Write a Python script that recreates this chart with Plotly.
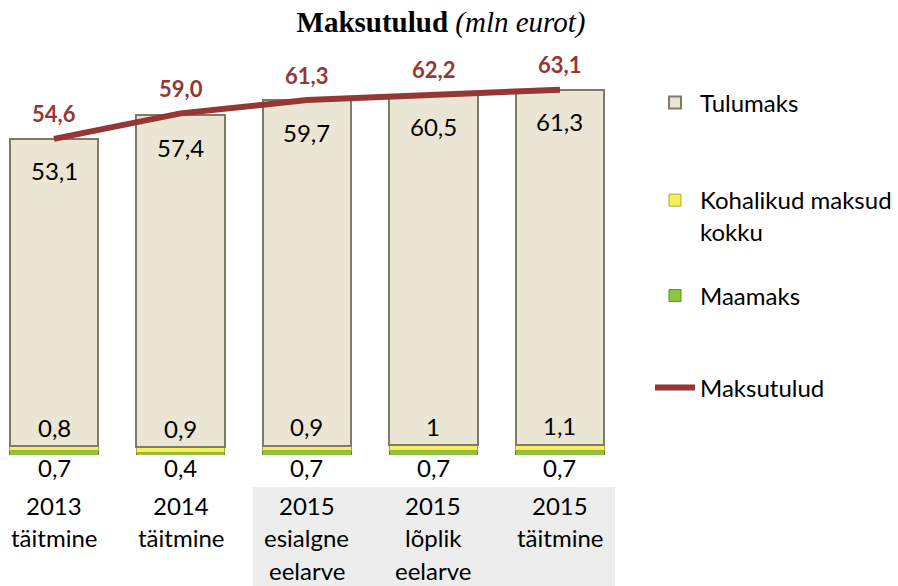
import plotly.graph_objects as go

categories = ["2013<br>täitmine", "2014<br>täitmine", "2015<br>esialgne<br>eelarve",
              "2015<br>lõplik<br>eelarve", "2015<br>täitmine"]
tulumaks = [53.1, 57.4, 59.7, 60.5, 61.3]
kohalikud = [0.8, 0.9, 0.9, 1.0, 1.1]
maamaks = [0.7, 0.4, 0.7, 0.7, 0.7]
maksutulud = [54.6, 59.0, 61.3, 62.2, 63.1]

FONT = "Lato, Open Sans, sans-serif"
FS = 24
x = list(range(len(categories)))


def dec1(v):
    return f"{v:.1f}".replace(".", ",")


def gen(v):
    return f"{v:g}".replace(".", ",")


fig = go.Figure()
fig.add_trace(go.Bar(
    x=x, y=maamaks, name="Maamaks", legend="legend3",
    marker=dict(color="#8CC63F", line=dict(color="#5E8A2A", width=1)),
    width=0.7, hoverinfo="skip"))
fig.add_trace(go.Bar(
    x=x, y=kohalikud, name="Kohalikud maksud<br>kokku", legend="legend2",
    marker=dict(color="#F2F25A", line=dict(color="#A8A83C", width=1)),
    width=0.7, hoverinfo="skip"))
fig.add_trace(go.Bar(
    x=x, y=tulumaks, name="Tulumaks", legend="legend",
    marker=dict(color="#EAE6D3", line=dict(color="#7E7B68", width=2)),
    width=0.7, hoverinfo="skip"))
fig.add_trace(go.Scatter(
    x=x, y=maksutulud, name="Maksutulud", legend="legend4",
    mode="lines", line=dict(color="#953735", width=6),
    hoverinfo="skip"))

annotations = []
for i in x:
    total = maamaks[i] + kohalikud[i] + tulumaks[i]
    annotations.append(dict(x=i, y=total, xref="x", yref="y",
                            text=dec1(tulumaks[i]), showarrow=False, yshift=-32,
                            font=dict(family=FONT, size=FS, color="#000000")))
    annotations.append(dict(x=i, y=maksutulud[i], xref="x", yref="y",
                            text=dec1(maksutulud[i]), showarrow=False, yshift=25,
                            font=dict(family=FONT, size=22, color="#953735", weight="bold")))
    annotations.append(dict(x=i, y=maamaks[i] + kohalikud[i], xref="x", yref="y",
                            text=gen(kohalikud[i]), showarrow=False, yshift=19,
                            font=dict(family=FONT, size=FS, color="#000000")))
    annotations.append(dict(x=i, y=0, xref="x", yref="y",
                            text=gen(maamaks[i]), showarrow=False, yshift=-12,
                            font=dict(family=FONT, size=FS, color="#000000")))
    for j, line in enumerate(categories[i].split("<br>")):
        annotations.append(dict(x=i, y=0, xref="x", yref="y", text=line,
                                showarrow=False, yshift=-50 - 32.5 * j,
                                font=dict(family=FONT, size=FS, color="#000000")))

PLOT_H = 395.0


def leg(ypix):
    return dict(x=650 / 615, y=(455 - ypix) / PLOT_H, xanchor="left", yanchor="middle",
                font=dict(family=FONT, size=FS, color="#000000"), valign="top",
                itemwidth=40, bgcolor="rgba(0,0,0,0)")


fig.update_layout(
    width=898, height=586,
    margin=dict(l=0, r=283, t=60, b=131),
    paper_bgcolor="white", plot_bgcolor="white",
    barmode="stack",
    title=dict(text="<b>Maksutulud</b> <i>(mln eurot)</i>",
               x=441 / 898, xref="container", xanchor="center",
               y=1 - 22 / 586, yref="container", yanchor="middle",
               font=dict(family="Liberation Serif, Times New Roman, serif", size=29, color="#000000")),
    xaxis=dict(range=[-0.427, 4.435], showticklabels=False, showgrid=False,
               zeroline=False, showline=False, ticks=""),
    yaxis=dict(range=[0, PLOT_H / 5.79], visible=False, showgrid=False),
    showlegend=True,
    legend=leg(103),
    legend2=leg(216),
    legend3=leg(296),
    legend4=leg(388),
    annotations=annotations,
    shapes=[dict(type="rect", xref="x", yref="paper", x0=1.573, x1=4.435,
                 y0=-(487 - 455) / PLOT_H, y1=-131 / PLOT_H,
                 fillcolor="#EDEDED", line=dict(width=0), layer="below")],
)

fig.write_html("out.html", config={"displayModeBar": False},
               post_script="document.body.style.margin='0';")
